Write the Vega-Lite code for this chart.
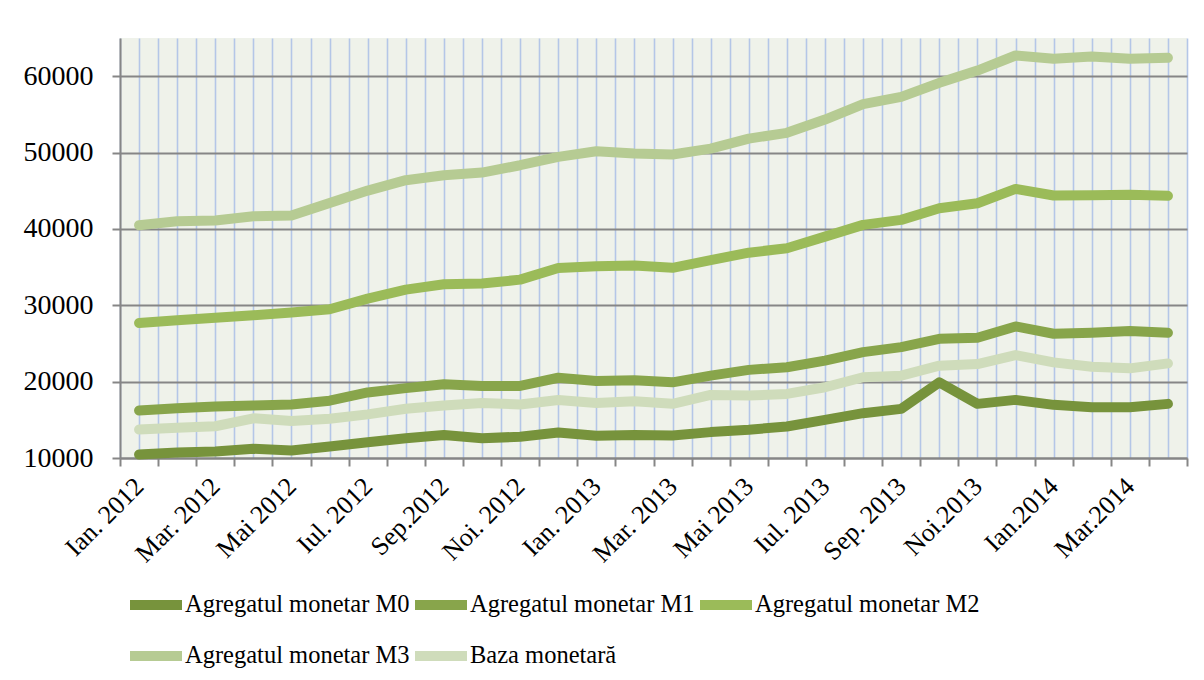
{
  "$schema": "https://vega.github.io/schema/vega-lite/v6.json",
  "autosize": "none",
  "width": 1067,
  "height": 420,
  "padding": {"left": 120, "top": 38, "right": 17, "bottom": 222},
  "background": "white",
  "config": {
    "view": {"stroke": null, "fill": "#EFF2EA"},
    "font": "Liberation Serif",
    "axis": {"labelFont": "Liberation Serif"},
    "legend": {"labelFont": "Liberation Serif"}
  },
  "data": {
    "values": [
      {"i": 0, "Agregatul monetar M0": 10450, "Agregatul monetar M1": 16220, "Agregatul monetar M2": 27690, "Agregatul monetar M3": 40480, "Baza monetară": 13730},
      {"i": 1, "Agregatul monetar M0": 10730, "Agregatul monetar M1": 16520, "Agregatul monetar M2": 28030, "Agregatul monetar M3": 41000, "Baza monetară": 13950},
      {"i": 2, "Agregatul monetar M0": 10860, "Agregatul monetar M1": 16740, "Agregatul monetar M2": 28380, "Agregatul monetar M3": 41100, "Baza monetară": 14160},
      {"i": 3, "Agregatul monetar M0": 11200, "Agregatul monetar M1": 16870, "Agregatul monetar M2": 28690, "Agregatul monetar M3": 41660, "Baza monetară": 15200},
      {"i": 4, "Agregatul monetar M0": 10990, "Agregatul monetar M1": 17000, "Agregatul monetar M2": 29040, "Agregatul monetar M3": 41750, "Baza monetară": 14850},
      {"i": 5, "Agregatul monetar M0": 11500, "Agregatul monetar M1": 17510, "Agregatul monetar M2": 29480, "Agregatul monetar M3": 43400, "Baza monetară": 15150},
      {"i": 6, "Agregatul monetar M0": 12060, "Agregatul monetar M1": 18580, "Agregatul monetar M2": 30870, "Agregatul monetar M3": 45020, "Baza monetară": 15710},
      {"i": 7, "Agregatul monetar M0": 12580, "Agregatul monetar M1": 19150, "Agregatul monetar M2": 32050, "Agregatul monetar M3": 46380, "Baza monetară": 16440},
      {"i": 8, "Agregatul monetar M0": 13000, "Agregatul monetar M1": 19650, "Agregatul monetar M2": 32750, "Agregatul monetar M3": 47030, "Baza monetară": 16870},
      {"i": 9, "Agregatul monetar M0": 12580, "Agregatul monetar M1": 19440, "Agregatul monetar M2": 32840, "Agregatul monetar M3": 47380, "Baza monetară": 17210},
      {"i": 10, "Agregatul monetar M0": 12790, "Agregatul monetar M1": 19440, "Agregatul monetar M2": 33360, "Agregatul monetar M3": 48340, "Baza monetară": 17000},
      {"i": 11, "Agregatul monetar M0": 13350, "Agregatul monetar M1": 20510, "Agregatul monetar M2": 34890, "Agregatul monetar M3": 49430, "Baza monetară": 17600},
      {"i": 12, "Agregatul monetar M0": 12920, "Agregatul monetar M1": 20090, "Agregatul monetar M2": 35110, "Agregatul monetar M3": 50170, "Baza monetară": 17210},
      {"i": 13, "Agregatul monetar M0": 13000, "Agregatul monetar M1": 20170, "Agregatul monetar M2": 35200, "Agregatul monetar M3": 49870, "Baza monetară": 17420},
      {"i": 14, "Agregatul monetar M0": 12960, "Agregatul monetar M1": 19910, "Agregatul monetar M2": 34910, "Agregatul monetar M3": 49740, "Baza monetară": 17090},
      {"i": 15, "Agregatul monetar M0": 13390, "Agregatul monetar M1": 20790, "Agregatul monetar M2": 35920, "Agregatul monetar M3": 50520, "Baza monetară": 18260},
      {"i": 16, "Agregatul monetar M0": 13700, "Agregatul monetar M1": 21540, "Agregatul monetar M2": 36890, "Agregatul monetar M3": 51830, "Baza monetară": 18170},
      {"i": 17, "Agregatul monetar M0": 14130, "Agregatul monetar M1": 21890, "Agregatul monetar M2": 37460, "Agregatul monetar M3": 52580, "Baza monetară": 18390},
      {"i": 18, "Agregatul monetar M0": 15000, "Agregatul monetar M1": 22760, "Agregatul monetar M2": 38990, "Agregatul monetar M3": 54320, "Baza monetară": 19260},
      {"i": 19, "Agregatul monetar M0": 15870, "Agregatul monetar M1": 23860, "Agregatul monetar M2": 40530, "Agregatul monetar M3": 56330, "Baza monetară": 20570},
      {"i": 20, "Agregatul monetar M0": 16430, "Agregatul monetar M1": 24520, "Agregatul monetar M2": 41180, "Agregatul monetar M3": 57290, "Baza monetară": 20780},
      {"i": 21, "Agregatul monetar M0": 19910, "Agregatul monetar M1": 25610, "Agregatul monetar M2": 42700, "Agregatul monetar M3": 59130, "Baza monetară": 22090},
      {"i": 22, "Agregatul monetar M0": 17090, "Agregatul monetar M1": 25740, "Agregatul monetar M2": 43360, "Agregatul monetar M3": 60740, "Baza monetară": 22300},
      {"i": 23, "Agregatul monetar M0": 17610, "Agregatul monetar M1": 27230, "Agregatul monetar M2": 45240, "Agregatul monetar M3": 62710, "Baza monetară": 23480},
      {"i": 24, "Agregatul monetar M0": 16960, "Agregatul monetar M1": 26270, "Agregatul monetar M2": 44370, "Agregatul monetar M3": 62270, "Baza monetară": 22520},
      {"i": 25, "Agregatul monetar M0": 16650, "Agregatul monetar M1": 26400, "Agregatul monetar M2": 44410, "Agregatul monetar M3": 62580, "Baza monetară": 21960},
      {"i": 26, "Agregatul monetar M0": 16650, "Agregatul monetar M1": 26620, "Agregatul monetar M2": 44460, "Agregatul monetar M3": 62270, "Baza monetară": 21740},
      {"i": 27, "Agregatul monetar M0": 17090, "Agregatul monetar M1": 26400, "Agregatul monetar M2": 44330, "Agregatul monetar M3": 62400, "Baza monetară": 22390}
    ]
  },
  "transform": [
    {"fold": ["Agregatul monetar M0", "Agregatul monetar M1", "Agregatul monetar M2", "Agregatul monetar M3", "Baza monetară"], "as": ["serie", "v"]}
  ],
  "mark": {"type": "line", "strokeWidth": 10, "strokeCap": "round", "strokeJoin": "round", "clip": false},
  "encoding": {
    "x": {
      "field": "i",
      "type": "quantitative",
      "scale": {"domain": [-0.5, 27.5], "nice": false, "zero": false},
      "axis": {
        "title": null,
        "values": [-0.5, 0, 0.5, 1, 1.5, 2, 2.5, 3, 3.5, 4, 4.5, 5, 5.5, 6, 6.5, 7, 7.5, 8, 8.5, 9, 9.5, 10, 10.5, 11, 11.5, 12, 12.5, 13, 13.5, 14, 14.5, 15, 15.5, 16, 16.5, 17, 17.5, 18, 18.5, 19, 19.5, 20, 20.5, 21, 21.5, 22, 22.5, 23, 23.5, 24, 24.5, 25, 25.5, 26, 26.5, 27, 27.5],
        "grid": true,
        "gridColor": "#B4C6E7",
        "gridWidth": 1.6,
        "domainColor": "#868686",
        "domainWidth": 2,
        "tickColor": "#868686",
        "tickWidth": 2,
        "tickSize": 8,
        "tickOpacity": {"condition": {"test": "datum.value % 1 != 0", "value": 1}, "value": 0},
        "labelExpr": "datum.value % 2 == 0 ? ['Ian. 2012','Mar. 2012','Mai 2012','Iul. 2012','Sep.2012','Noi. 2012','Ian. 2013','Mar. 2013','Mai 2013','Iul. 2013','Sep. 2013','Noi.2013','Ian.2014','Mar.2014'][datum.value / 2] : ''",
        "labelAngle": -45,
        "labelAlign": "right",
        "labelBaseline": "middle",
        "labelFont": "Liberation Serif",
        "labelFontSize": 26,
        "labelColor": "#000000",
        "labelPadding": 16,
        "labelOverlap": false,
        "labelFlush": false,
        "labelBound": false
      }
    },
    "y": {
      "field": "v",
      "type": "quantitative",
      "scale": {"domain": [10000, 65000], "nice": false, "zero": false},
      "axis": {
        "title": null,
        "values": [10000, 20000, 30000, 40000, 50000, 60000],
        "grid": true,
        "gridColor": "#868686",
        "gridWidth": 2,
        "domainColor": "#868686",
        "domainWidth": 2,
        "tickColor": "#868686",
        "tickWidth": 2,
        "tickSize": 8,
        "labelFont": "Liberation Serif",
        "labelFontSize": 28,
        "labelColor": "#000000",
        "labelPadding": 19,
        "format": "d"
      }
    },
    "color": {
      "field": "serie",
      "type": "nominal",
      "scale": {
        "domain": ["Agregatul monetar M0", "Agregatul monetar M1", "Agregatul monetar M2", "Agregatul monetar M3", "Baza monetară"],
        "range": ["#77933C", "#88A54B", "#9BBB59", "#B6CB93", "#CFDCBB"]
      },
      "legend": {
        "orient": "none",
        "legendX": 5,
        "legendY": 536,
        "title": null,
        "direction": "horizontal",
        "columns": 3,
        "gridAlign": "each",
        "columnPadding": -16,
        "rowPadding": -10,
        "padding": 0,
        "symbolType": "stroke",
        "symbolSize": 2704,
        "symbolStrokeWidth": 10,
        "labelFont": "Liberation Serif",
        "labelFontSize": 24.5,
        "labelColor": "#000000",
        "labelOffset": -2,
        "labelLimit": 400
      }
    },
    "detail": {"field": "serie"}
  }
}
